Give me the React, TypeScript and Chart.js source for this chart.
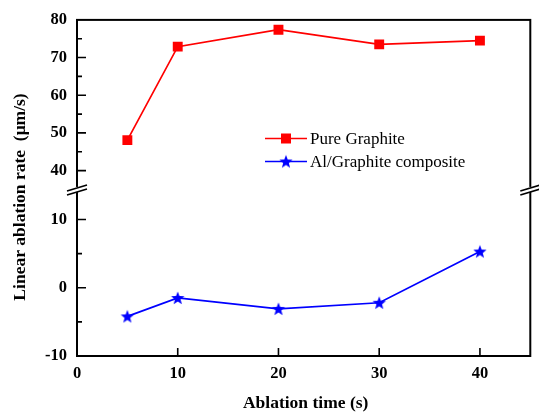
import React, { useEffect, useRef } from 'react';
import { Chart, registerables } from 'chart.js';
Chart.register(...registerables);

const times = [5, 10, 20, 30, 40];
const pureGraphite = [48.1, 72.9, 77.4, 73.5, 74.5];
const alGraphite = [-4.2, -1.5, -3.1, -2.2, 5.3];
const seriesNames = ['Pure Graphite', 'Al/Graphite composite'];
const xTicks = [0, 10, 20, 30, 40];
const topTicks = [40, 50, 60, 70, 80];
const topMinor = [45, 55, 65, 75];
const bottomTicks = [-10, 0, 10];
const bottomMinor = [-5, 5];
const xTitle = 'Ablation time (s)';
const yTitle = 'Linear ablation rate  (\u03bcm/s)';

const SERIF = '"Liberation Serif", "Times New Roman", serif';

function makeStar(color: string, outer: number) {
  const size = Math.ceil(outer * 2 + 2);
  const c = document.createElement('canvas');
  c.width = size;
  c.height = size;
  const ctx = c.getContext('2d')!;
  const cx = size / 2, cy = size / 2 + 0.5;
  const inner = outer * 0.42;
  ctx.beginPath();
  for (let i = 0; i < 10; i++) {
    const r = i % 2 === 0 ? outer : inner;
    const a = -Math.PI / 2 + (i * Math.PI) / 5;
    const px = cx + r * Math.cos(a);
    const py = cy + r * Math.sin(a);
    if (i === 0) ctx.moveTo(px, py); else ctx.lineTo(px, py);
  }
  ctx.closePath();
  ctx.fillStyle = color;
  ctx.fill();
  return c;
}

export default function App() {
  const ref = useRef<HTMLCanvasElement | null>(null);
  useEffect(() => {
    const canvas = ref.current!;
    const star = makeStar('#0000ff', 7);
    const decor = {
      id: 'decor',
      afterDraw(chart: any) {
        const ctx = chart.ctx as CanvasRenderingContext2D;
        const a = chart.chartArea;
        const sx = chart.scales.x;
        const yt = chart.scales.yTop;
        const yb = chart.scales.yBot;
        ctx.save();
        ctx.strokeStyle = '#000';
        ctx.lineWidth = 2;
        ctx.strokeRect(a.left, a.top, a.right - a.left, a.bottom - a.top);
        // ticks
        ctx.lineWidth = 1.6;
        ctx.beginPath();
        xTicks.forEach((v) => {
          if (v === sx.min) return;
          const px = sx.getPixelForValue(v);
          ctx.moveTo(px, a.bottom);
          ctx.lineTo(px, a.bottom - 8);
        });
        topTicks.forEach((v) => {
          if (v === yt.max) return;
          const py = yt.getPixelForValue(v);
          ctx.moveTo(a.left, py);
          ctx.lineTo(a.left + 9, py);
        });
        topMinor.forEach((v) => {
          const py = yt.getPixelForValue(v);
          ctx.moveTo(a.left, py);
          ctx.lineTo(a.left + 5, py);
        });
        bottomTicks.forEach((v) => {
          if (v === yb.min) return;
          const py = yb.getPixelForValue(v);
          ctx.moveTo(a.left, py);
          ctx.lineTo(a.left + 9, py);
        });
        bottomMinor.forEach((v) => {
          const py = yb.getPixelForValue(v);
          ctx.moveTo(a.left, py);
          ctx.lineTo(a.left + 5, py);
        });
        ctx.stroke();
        // breaks
        const by = yt.bottom;
        [a.left, a.right].forEach((bx) => {
          ctx.fillStyle = '#fff';
          ctx.fillRect(bx - 2, by - 2.5, 4, 5);
          ctx.strokeStyle = '#000';
          ctx.lineWidth = 1.6;
          ctx.beginPath();
          ctx.moveTo(bx - 10, by + 1.5);
          ctx.lineTo(bx + 10, by - 4.5);
          ctx.moveTo(bx - 10, by + 5.5);
          ctx.lineTo(bx + 10, by - 0.5);
          ctx.stroke();
        });
        // titles
        ctx.fillStyle = '#000';
        ctx.font = 'bold 17.5px ' + SERIF;
        ctx.textAlign = 'center';
        ctx.textBaseline = 'middle';
        ctx.fillText(xTitle, (a.left + a.right) / 2 + 2, 403);
        ctx.save();
        ctx.translate(20, 197);
        ctx.rotate(-Math.PI / 2);
        ctx.fillText(yTitle, 0, 0);
        ctx.restore();
        // legend
        ctx.font = '17px ' + SERIF;
        ctx.textAlign = 'left';
        const ly1 = 138.5, ly2 = 161.5;
        ctx.lineWidth = 1.6;
        ctx.strokeStyle = '#ff0000';
        ctx.beginPath();
        ctx.moveTo(265, ly1);
        ctx.lineTo(307, ly1);
        ctx.stroke();
        ctx.fillStyle = '#ff0000';
        ctx.fillRect(281, ly1 - 5, 10, 10);
        ctx.strokeStyle = '#0000ff';
        ctx.beginPath();
        ctx.moveTo(265, ly2);
        ctx.lineTo(307, ly2);
        ctx.stroke();
        ctx.drawImage(star, 286 - star.width / 2, ly2 - star.height / 2);
        ctx.fillStyle = '#000';
        ctx.fillText(seriesNames[0], 310, ly1 + 1);
        ctx.fillText(seriesNames[1], 310, ly2 + 1);
        ctx.restore();
      },
    };
    const tickFont = { family: SERIF, size: 16.5, weight: 'bold' as const };
    const chart = new Chart(canvas, {
      type: 'line',
      data: {
        datasets: [
          {
            label: seriesNames[0],
            data: times.map((t, i) => ({ x: t, y: pureGraphite[i] })),
            yAxisID: 'yTop',
            borderColor: '#ff0000',
            backgroundColor: '#ff0000',
            borderWidth: 1.7,
            pointStyle: 'rect',
            pointRadius: 7,
            pointBorderWidth: 0,
            tension: 0,
          },
          {
            label: seriesNames[1],
            data: times.map((t, i) => ({ x: t, y: alGraphite[i] })),
            yAxisID: 'yBot',
            borderColor: '#0000ff',
            backgroundColor: '#0000ff',
            borderWidth: 1.7,
            pointStyle: star as any,
            pointRadius: 7,
            tension: 0,
          },
        ],
      },
      options: {
        animation: false,
        responsive: false,
        maintainAspectRatio: false,
        layout: { padding: { left: 0, right: 7, top: 16, bottom: 0 } },
        plugins: { legend: { display: false }, tooltip: { enabled: false } },
        scales: {
          x: {
            type: 'linear',
            position: 'bottom',
            min: 0,
            max: 45,
            grid: { display: false, drawTicks: false },
            border: { display: false },
            afterBuildTicks: (s: any) => { s.ticks = xTicks.map((v) => ({ value: v })); },
            afterFit: (s: any) => { s.height = 56; },
            ticks: { font: tickFont, color: '#000', padding: 8, maxRotation: 0 },
          },
          yBot: {
            type: 'linear',
            position: 'left',
            stack: 'y',
            stackWeight: 168,
            min: -10,
            max: 14.4,
            grid: { display: false, drawTicks: false },
            border: { display: false },
            afterBuildTicks: (s: any) => { s.ticks = bottomTicks.map((v) => ({ value: v })); },
            afterFit: (s: any) => { s.width = 77; },
            ticks: { font: tickFont, color: '#000', padding: 10 },
          },
          yTop: {
            type: 'linear',
            position: 'left',
            stack: 'y',
            stackWeight: 171,
            min: 35,
            max: 80,
            grid: { display: false, drawTicks: false },
            border: { display: false },
            afterBuildTicks: (s: any) => { s.ticks = topTicks.map((v) => ({ value: v })); },
            afterFit: (s: any) => { s.width = 77; },
            ticks: { font: tickFont, color: '#000', padding: 10 },
          },
        },
      } as any,
      plugins: [decor],
    });
    return () => chart.destroy();
  }, []);
  return (
    <div style={{ position: 'absolute', left: 0, top: 0, width: 539, height: 412, background: '#fff' }}>
      <canvas ref={ref} width={539} height={412} style={{ width: 539, height: 412 }} />
    </div>
  );
}
